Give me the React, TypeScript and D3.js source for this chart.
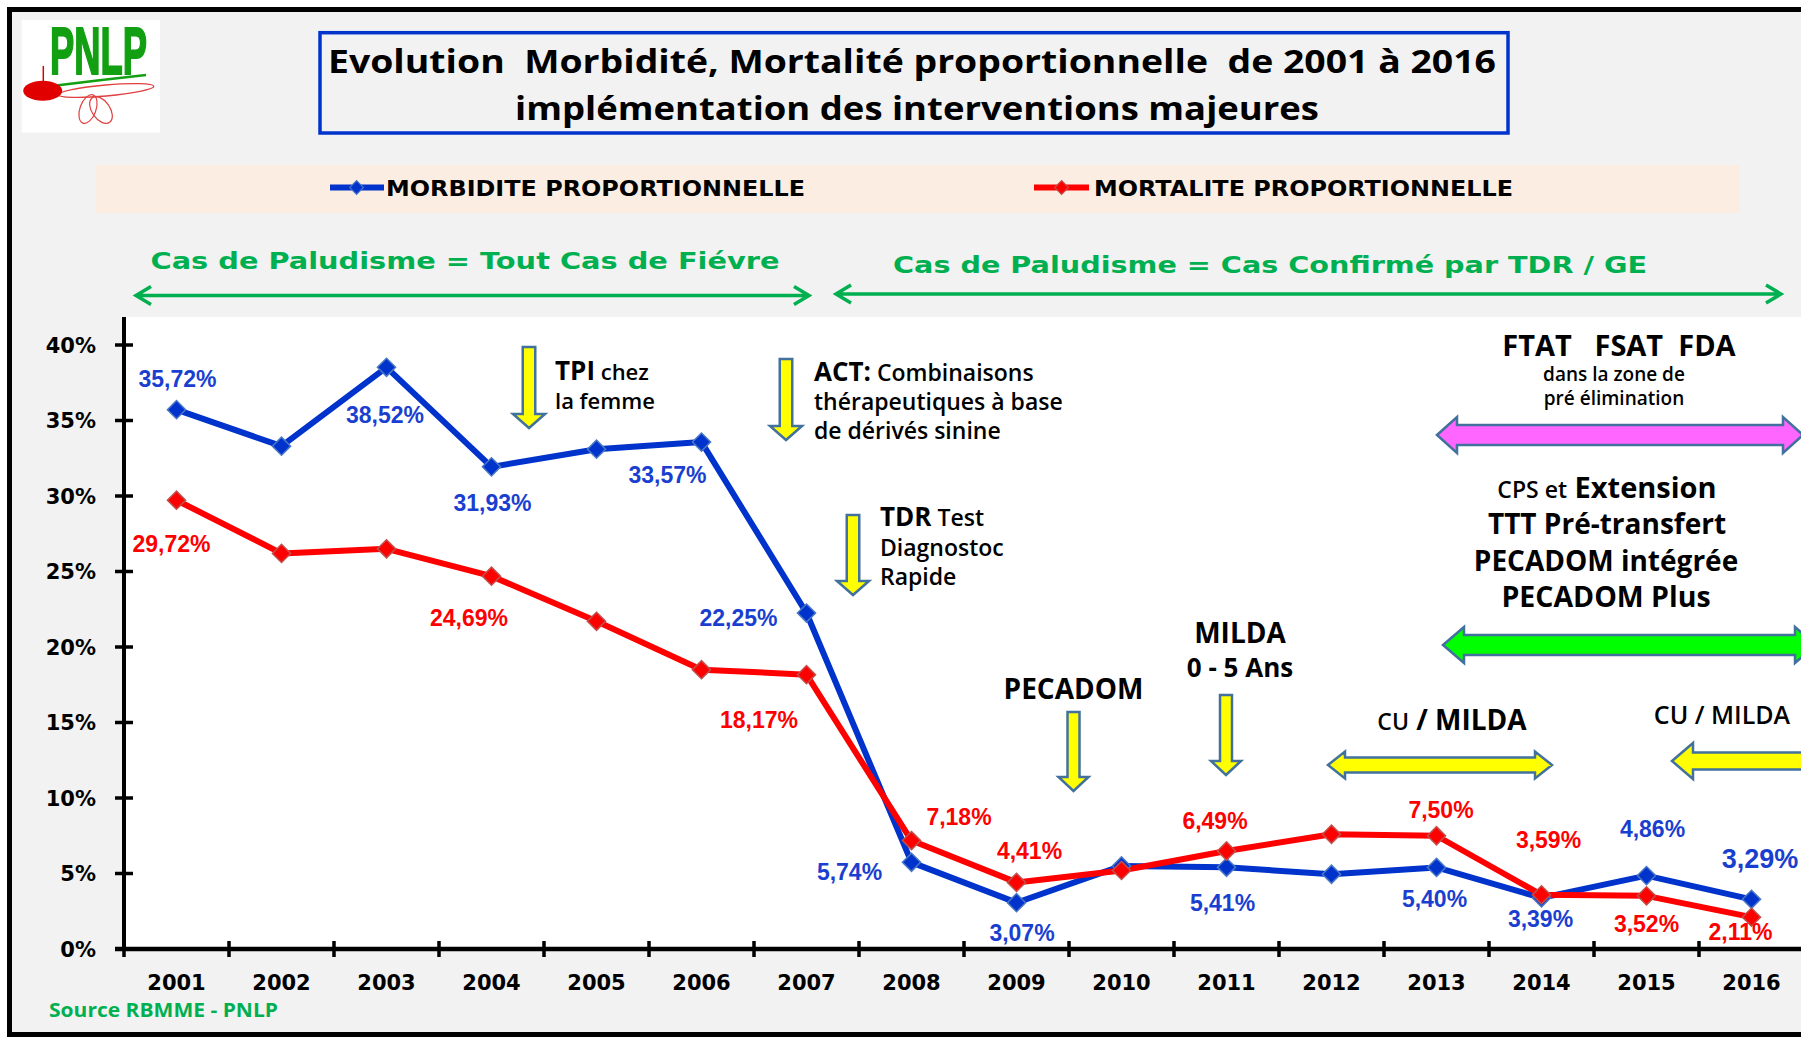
import React, { useEffect } from 'react';
import * as d3 from 'd3';

// ---------- DATA ----------
const years = ['2001', '2002', '2003', '2004', '2005', '2006', '2007', '2008', '2009', '2010', '2011', '2012', '2013', '2014', '2015', '2016'];
const morbidite = [35.72, 33.3, 38.52, 31.93, 33.1, 33.57, 22.25, 5.74, 3.07, 5.5, 5.41, 4.95, 5.4, 3.39, 4.86, 3.29];
const mortalite = [29.72, 26.2, 26.5, 24.69, 21.7, 18.5, 18.17, 7.18, 4.41, 5.2, 6.49, 7.6, 7.5, 3.59, 3.52, 2.11];
const morbiditeShown = [1, 0, 1, 1, 0, 1, 1, 1, 1, 0, 1, 0, 1, 1, 1, 1];
const mortaliteShown = [1, 0, 0, 1, 0, 0, 1, 1, 1, 0, 1, 0, 1, 1, 1, 1];
const yTicks = [0, 5, 10, 15, 20, 25, 30, 35, 40];
const seriesNames = ['MORBIDITE PROPORTIONNELLE', 'MORTALITE PROPORTIONNELLE'];

// ---------- LAYOUT ----------
const W = 1801;
const H = 1037;
const PLOT = { left: 124, right: 1804, top: 317, bottom: 949, yTop: 345 };
// label offsets (dx, dy of label centre from point) and font size
const morbLabelPos: number[][] = [[1, -31, 23], [0, 0, 23], [-1.5, 47, 23], [1, 36, 23], [0, 0, 23], [-34, 33, 23], [-68, 5, 23], [-62, 9, 23], [5.5, 30, 23], [0, 0, 23], [-4, 35, 23], [0, 0, 23], [-2, 31, 23], [-1, 20.5, 23], [6, -47, 23], [8.5, -41, 27]];
const mortLabelPos: number[][] = [[-5, 43, 23], [0, 0, 23], [0, 0, 23], [-22.5, 42, 23], [0, 0, 23], [0, 0, 23], [-47.5, 45.5, 23], [47.5, -23.5, 23], [13, -31.5, 23], [0, 0, 23], [-11.5, -30.5, 23], [0, 0, 23], [4.5, -26, 23], [7, -55.5, 23], [0, 27.5, 23], [-11, 14.5, 23]];

const BLUE = '#0033cc';
const BLUE_TXT = '#1a3fd0';
const RED = '#ff0000';
const GREEN = '#00b050';
const ARROW_STROKE = '#41719c';

const F_DEJAVU = 'DejaVu Sans, Verdana, sans-serif';
const F_ARIAL = 'Liberation Sans, Arial, sans-serif';
const F_CAL = 'Open Sans, Calibri, sans-serif';

function downArrow(cx: number, top: number, tip: number, sw: number, hw: number, hl: number) {
  const b = tip - hl;
  return [
    [cx - sw / 2, top], [cx + sw / 2, top], [cx + sw / 2, b], [cx + hw / 2, b], [cx, tip],
    [cx - hw / 2, b], [cx - sw / 2, b],
  ].map((p) => p.join(',')).join(' ');
}

function doubleArrow(x1: number, x2: number, cy: number, sh: number, hh: number, hl: number) {
  return [
    [x1, cy], [x1 + hl, cy - hh / 2], [x1 + hl, cy - sh / 2], [x2 - hl, cy - sh / 2], [x2 - hl, cy - hh / 2],
    [x2, cy], [x2 - hl, cy + hh / 2], [x2 - hl, cy + sh / 2], [x1 + hl, cy + sh / 2], [x1 + hl, cy + hh / 2],
  ].map((p) => p.join(',')).join(' ');
}

function lineArrow(x1: number, x2: number, yy: number) {
  const l = 15, h = 9;
  return `M${x1},${yy}L${x2},${yy}M${x1 + l},${yy - h}L${x1},${yy}L${x1 + l},${yy + h}M${x2 - l},${yy - h}L${x2},${yy}L${x2 - l},${yy + h}`;
}

const fmt = (v: number) => v.toFixed(2).replace('.', ',') + '%';

export default function App() {
  useEffect(() => {
    document.body.style.margin = '0';
    document.body.style.overflow = 'hidden';
  }, []);

  const x = d3.scaleBand<string>().domain(years).range([PLOT.left, PLOT.right]).padding(0);
  const cx = (i: number) => (x(years[i]) as number) + x.bandwidth() / 2;
  const y = d3.scaleLinear().domain([0, 40]).range([PLOT.bottom, PLOT.yTop]);
  const line = d3.line<number>().x((_, i) => cx(i)).y((d) => y(d));
  const diamond = d3.symbol().type(d3.symbolSquare).size(165)() as string;
  const legendDiamond = d3.symbol().type(d3.symbolSquare).size(95)() as string;

  const boundaries = years.map((yr) => x(yr) as number);

  const series = [
    { values: morbidite, shown: morbiditeShown, pos: morbLabelPos, color: BLUE, txt: BLUE_TXT, mstroke: '#4a78c4' },
    { values: mortalite, shown: mortaliteShown, pos: mortLabelPos, color: RED, txt: RED, mstroke: '#c0504d' },
  ];

  const arrowStyle = { stroke: ARROW_STROKE, strokeWidth: 2.5, strokeLinejoin: 'miter' as const };

  return (
    <svg width={W} height={H} style={{ position: 'absolute', left: 0, top: 0, display: 'block' }}>
      <rect x={0} y={0} width={W} height={H} fill="#ffffff" />
      {/* frame */}
      <rect x={9.5} y={9.5} width={1830} height={1025} fill="#f2f2f2" stroke="#000" strokeWidth={5} />

      {/* logo */}
      <g>
        <rect x={21.7} y={20} width={138.3} height={112.7} fill="#ffffff" />
        <text x={50} y={74} fontFamily={F_ARIAL} fontWeight={700} fontSize={66} textLength={97}
          lengthAdjust="spacingAndGlyphs" fill="#12a012" stroke="#12a012" strokeWidth={2}>PNLP</text>
        <path d="M52,86 Q100,80 146,75" fill="none" stroke="#12a012" strokeWidth={2.5} />
        <line x1={43.3} y1={66} x2={43.3} y2={82} stroke="#e00000" strokeWidth={1.5} />
        <ellipse cx={106} cy={90.5} rx={48} ry={5.5} transform="rotate(-5 106 90.5)" fill="none" stroke="#e04040" strokeWidth={1.3} />
        <ellipse cx={88} cy={109} rx={8} ry={15} transform="rotate(20 88 109)" fill="none" stroke="#e04040" strokeWidth={1.2} />
        <ellipse cx={101} cy={110} rx={9} ry={15} transform="rotate(-35 101 110)" fill="none" stroke="#e04040" strokeWidth={1.2} />
        <ellipse cx={42.7} cy={90.7} rx={19.5} ry={10} fill="#e00000" />
      </g>

      {/* title */}
      <rect x={320} y={32.7} width={1188} height={100.3} fill="#f2f2f2" stroke={BLUE} strokeWidth={3.5} />
      <text x={328} y={72.5} fontFamily={F_CAL} fontWeight={700} fontSize={33} textLength={1168}
        lengthAdjust="spacingAndGlyphs" xmlSpace="preserve" style={{ whiteSpace: 'pre' }} fill="#000">
        {'Evolution  Morbidité, Mortalité proportionnelle  de 2001 à 2016'}
      </text>
      <text x={515} y={120} fontFamily={F_CAL} fontWeight={700} fontSize={33} textLength={804}
        lengthAdjust="spacingAndGlyphs" fill="#000">implémentation des interventions majeures</text>

      {/* legend */}
      <rect x={96} y={165} width={1644} height={48} fill="#fcede3" />
      {[{ x1: 330, x2: 384, d: 356.6, tx: 386, c: BLUE, ms: '#4a78c4' }, { x1: 1034, x2: 1089, d: 1061.6, tx: 1094, c: RED, ms: '#c0504d' }].map((l, i) => (
        <g key={i}>
          <line x1={l.x1} y1={187.5} x2={l.x2} y2={187.5} stroke={l.c} strokeWidth={6} />
          <path d={legendDiamond} transform={`translate(${l.d},187.5) rotate(45)`} fill={l.c} stroke={l.ms} strokeWidth={1.2} />
          <text x={l.tx} y={196} fontFamily={F_DEJAVU} fontWeight={700} fontSize={21} textLength={419}
            lengthAdjust="spacingAndGlyphs" fill="#000">{seriesNames[i]}</text>
        </g>
      ))}

      {/* green period markers */}
      <text x={150.5} y={269} fontFamily={F_DEJAVU} fontWeight={700} fontSize={23} textLength={629}
        lengthAdjust="spacingAndGlyphs" fill={GREEN}>Cas de Paludisme = Tout Cas de Fiévre</text>
      <text x={893} y={272.5} fontFamily={F_DEJAVU} fontWeight={700} fontSize={23} textLength={754}
        lengthAdjust="spacingAndGlyphs" fill={GREEN}>Cas de Paludisme = Cas Confirmé par TDR / GE</text>
      <path d={lineArrow(136, 809, 295.5)} fill="none" stroke={GREEN} strokeWidth={3.5} />
      <path d={lineArrow(836, 1781, 294)} fill="none" stroke={GREEN} strokeWidth={3.5} />

      {/* plot area */}
      <rect x={PLOT.left} y={PLOT.top} width={W - PLOT.left} height={PLOT.bottom - PLOT.top} fill="#ffffff" />

      {/* annotations */}
      <g fontFamily={F_CAL} fill="#000">
        <polygon points={downArrow(529, 347, 428, 12.5, 32, 14)} fill="#ffff00" {...arrowStyle} />
        <text x={555} y={380}><tspan fontSize={26} fontWeight={700}>TPI</tspan><tspan fontSize={22} fontWeight={600}> chez</tspan></text>
        <text x={555} y={409} fontSize={22} fontWeight={600}>la femme</text>

        <polygon points={downArrow(786, 359, 440, 12.5, 32, 14)} fill="#ffff00" {...arrowStyle} />
        <text x={814} y={381}><tspan fontSize={26} fontWeight={700}>ACT:</tspan><tspan fontSize={23} fontWeight={600}> Combinaisons</tspan></text>
        <text x={814} y={410} fontSize={23} fontWeight={600}>thérapeutiques à base</text>
        <text x={814} y={439} fontSize={23} fontWeight={600}>de dérivés sinine</text>

        <polygon points={downArrow(853, 515, 595, 12.5, 32, 14)} fill="#ffff00" {...arrowStyle} />
        <text x={880} y={526}><tspan fontSize={26} fontWeight={700}>TDR</tspan><tspan fontSize={23} fontWeight={600}> Test</tspan></text>
        <text x={880} y={555.5} fontSize={23} fontWeight={600}>Diagnostoc</text>
        <text x={880} y={585} fontSize={23} fontWeight={600}>Rapide</text>

        <text x={1073.5} y={699} fontSize={28} fontWeight={700} textAnchor="middle">PECADOM</text>
        <polygon points={downArrow(1073.5, 712, 791, 12, 30, 14)} fill="#ffff00" {...arrowStyle} />

        <text x={1240} y={643} fontSize={28} fontWeight={700} textAnchor="middle">MILDA</text>
        <text x={1240} y={677} fontSize={26} fontWeight={700} textAnchor="middle">0 - 5 Ans</text>
        <polygon points={downArrow(1226, 695, 775, 12, 30, 14)} fill="#ffff00" {...arrowStyle} />

        <text x={1452} y={730} textAnchor="middle"><tspan fontSize={23} fontWeight={600}>CU</tspan><tspan fontSize={28} fontWeight={700}> / MILDA</tspan></text>
        <polygon points={doubleArrow(1328, 1552, 765, 15, 27, 17)} fill="#ffff00" {...arrowStyle} />

        <text x={1722} y={724} fontSize={25} fontWeight={600} textAnchor="middle">CU / MILDA</text>
        <polygon points={doubleArrow(1672, 1900, 761, 17, 36, 21)} fill="#ffff00" {...arrowStyle} />

        <text x={1619} y={356} fontSize={29} fontWeight={700} textAnchor="middle" xmlSpace="preserve" style={{ whiteSpace: 'pre' }}>{'FTAT   FSAT  FDA'}</text>
        <text x={1614} y={381} fontSize={19} fontWeight={600} textAnchor="middle">dans la zone de</text>
        <text x={1614} y={405} fontSize={19} fontWeight={600} textAnchor="middle">pré élimination</text>
        <polygon points={doubleArrow(1437, 1803, 435, 20, 36, 20)} fill="#ff66ff" {...arrowStyle} />

        <text x={1607} y={498} textAnchor="middle"><tspan fontSize={23} fontWeight={600}>CPS et</tspan><tspan fontSize={29} fontWeight={700}> Extension</tspan></text>
        <text x={1607} y={534} fontSize={28} fontWeight={700} textAnchor="middle">TTT Pré-transfert</text>
        <text x={1606} y={570.5} fontSize={28} fontWeight={700} textAnchor="middle">PECADOM intégrée</text>
        <text x={1606} y={607} fontSize={28.5} fontWeight={700} textAnchor="middle">PECADOM Plus</text>
        <polygon points={doubleArrow(1443, 1816, 645, 20, 36, 21)} fill="#00ff00" {...arrowStyle} />
      </g>

      {/* series lines */}
      {series.map((s, si) => (
        <path key={'l' + si} d={line(s.values) as string} fill="none" stroke={s.color} strokeWidth={6} strokeLinejoin="round" />
      ))}
      {series.map((s, si) => (
        <g key={'m' + si}>
          {s.values.map((v, i) => (
            <path key={i} d={diamond} transform={`translate(${cx(i)},${y(v)}) rotate(45)`} fill={s.color} stroke={s.mstroke} strokeWidth={1.5} />
          ))}
        </g>
      ))}
      {series.map((s, si) => (
        <g key={'t' + si} fontFamily={F_ARIAL} fontWeight={700} fill={s.txt} textAnchor="middle">
          {s.values.map((v, i) => s.shown[i] ? (
            <text key={i} x={cx(i) + s.pos[i][0]} y={y(v) + s.pos[i][1] + s.pos[i][2] * 0.36} fontSize={s.pos[i][2]}>{fmt(v)}</text>
          ) : null)}
        </g>
      ))}

      {/* y axis */}
      <line x1={PLOT.left} y1={PLOT.top} x2={PLOT.left} y2={PLOT.bottom} stroke="#000" strokeWidth={4} />
      {yTicks.map((t) => (
        <g key={t}>
          <line x1={115} y1={y(t)} x2={133} y2={y(t)} stroke="#000" strokeWidth={3.5} />
          <text x={96} y={y(t) + 7.5} textAnchor="end" fontFamily={F_DEJAVU} fontWeight={700} fontSize={21} fill="#000">{t}%</text>
        </g>
      ))}

      {/* x axis */}
      <line x1={115} y1={PLOT.bottom} x2={W} y2={PLOT.bottom} stroke="#000" strokeWidth={4.5} />
      {boundaries.map((b, i) => (
        <line key={i} x1={b} y1={PLOT.bottom - 8} x2={b} y2={PLOT.bottom + 8} stroke="#000" strokeWidth={3.5} />
      ))}
      {years.map((yr, i) => (
        <text key={yr} x={cx(i)} y={990} textAnchor="middle" fontFamily={F_DEJAVU} fontWeight={700} fontSize={21} fill="#000">{yr}</text>
      ))}

      {/* source */}
      <text x={49} y={1016.5} fontFamily={F_CAL} fontWeight={700} fontSize={19} textLength={229}
        lengthAdjust="spacingAndGlyphs" fill={GREEN}>Source RBMME - PNLP</text>
    </svg>
  );
}
